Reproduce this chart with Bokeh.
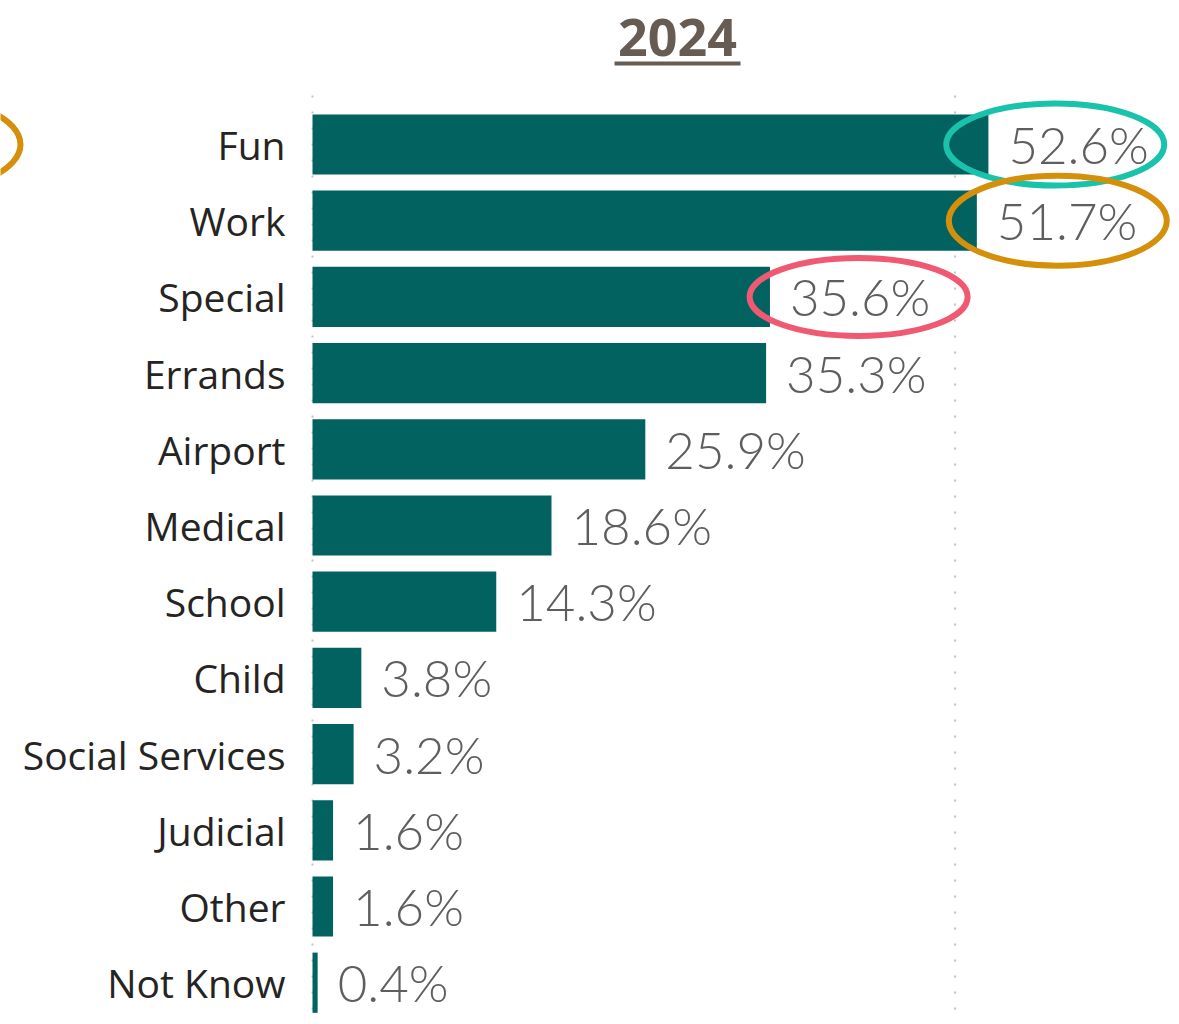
from bokeh.plotting import figure
from bokeh.models import Range1d
from bokeh.core.properties import value
from bokeh.embed import file_html
from bokeh.resources import INLINE

# ---- data ----
categories = ["Fun", "Work", "Special", "Errands", "Airport", "Medical",
              "School", "Child", "Social Services", "Judicial", "Other", "Not Know"]
shares = [52.6, 51.7, 35.6, 35.3, 25.9, 18.6, 14.3, 3.8, 3.2, 1.6, 1.6, 0.4]
share_labels = ["52.6%", "51.7%", "35.6%", "35.3%", "25.9%", "18.6%",
                "14.3%", "3.8%", "3.2%", "1.6%", "1.6%", "0.4%"]
title_text = "2024"
grid_values = [0, 50]

# highlighted labels (ellipses)
hl_cats = ["Fun", "Work", "Special"]
hl_colors = ["#19c2aa", "#d4900a", "#ef5a72"]

# ---- geometry ----
W, H = 1171, 1016
PX = 12.85          # px per percentage point
X0 = 312            # x of 0%
STEP = 76.2         # px per row
YT = 144            # y of the first row centre
n = len(categories)
YB = YT + STEP * (n - 1)   # y of the last row centre

def px2x(px):
    return (px - X0) / PX

def px2y(py):
    return (YB - py) / STEP

ypos = [n - 1 - i for i in range(n)]

p = figure(width=W, height=H, output_backend="svg", toolbar_location=None,
           x_range=Range1d(px2x(0), px2x(W)),
           y_range=Range1d(px2y(H), px2y(0)),
           min_border=0, outline_line_color=None)
p.axis.visible = False
p.grid.visible = False
p.background_fill_color = "white"
p.border_fill_color = "white"

# dotted gridlines
top_v = px2y(95)
p.segment(x0=grid_values, x1=grid_values, y0=[top_v] * 2, y1=[px2y(H)] * 2,
          line_color="#c4c4c4", line_width=2, line_dash="2 14")

# bars
p.hbar(y=ypos, left=0, right=shares, height=0.79,
       fill_color="#02625f", line_color=None)

# category labels
p.text(x=[0] * n, y=ypos, text=categories, x_offset=-27,
       text_align="right", text_baseline="middle",
       text_font=value("Open Sans"), text_font_size="39px", text_color="#252423")

# value labels
p.text(x=shares, y=ypos, text=share_labels, x_offset=20,
       text_align="left", text_baseline="middle",
       text_font=value("Lato Light, Open Sans"), text_font_size="51px",
       text_color="#5e5e5e")

# title with underline
p.text(x=[px2x(677)], y=[px2y(37)], text=[title_text],
       text_align="center", text_baseline="middle",
       text_font=value("Open Sans"), text_font_style="bold",
       text_font_size="52px", text_color="#665c53")
p.segment(x0=[px2x(614)], x1=[px2x(740)], y0=[px2y(63)], y1=[px2y(63)],
          line_color="#665c53", line_width=4)

# highlight ellipses
hl_offsets = [5.2, 6.3, 6.9]
hl_w = [218, 218, 218]
hl_h = [82, 90, 78]
for c, col, off, w, h in zip(hl_cats, hl_colors, hl_offsets, hl_w, hl_h):
    i = categories.index(c)
    p.ellipse(x=[shares[i] + off], y=[ypos[i]], width=w, height=h,
              width_units="screen", height_units="screen",
              fill_color=None, line_color=col, line_width=6)

# partial ellipse at left edge (carried over from neighbouring panel)
p.ellipse(x=[px2x(-90)], y=[ypos[0]], width=220, height=96,
          width_units="screen", height_units="screen",
          fill_color=None, line_color="#d4900a", line_width=6)

open("out.html", "w").write(file_html(p, INLINE))
